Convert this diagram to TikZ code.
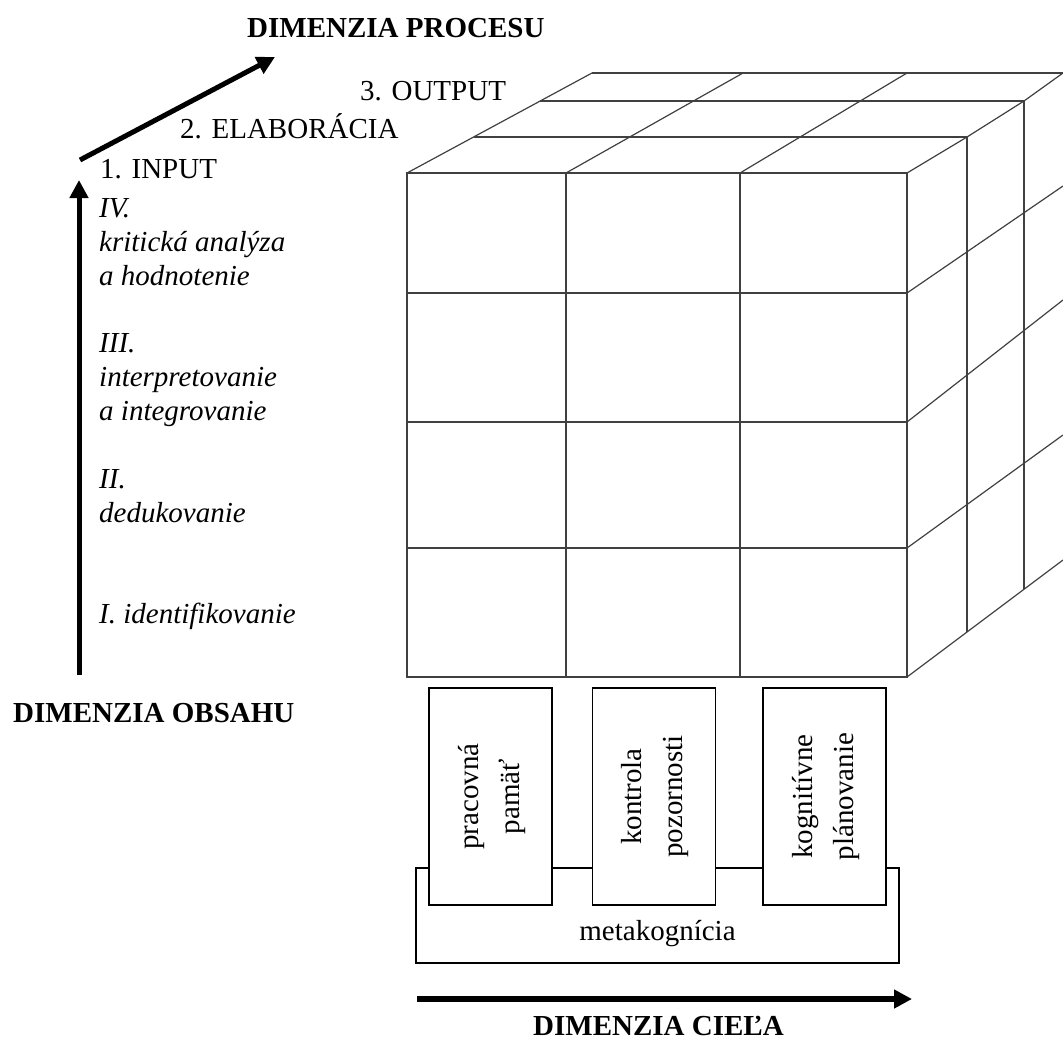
\documentclass[tikz,border=0pt]{standalone}
\usepackage{fontspec}
\setmainfont{Liberation Serif}
\usepackage{graphicx}
\usetikzlibrary{positioning,arrows.meta}

\begin{document}
\begin{tikzpicture}[x=1pt, y=-1pt,
    font=\fontsize{29}{34}\selectfont,
    cube/.style={draw=black!75, line width=1.2pt},
    axis/.style={line width=5pt, -{Triangle[length=18pt,width=18pt]}},
    phase/.style={anchor=base west, inner sep=0pt},
    level/.style={anchor=base west, inner sep=0pt, align=left,
                  font=\fontsize{29}{34}\selectfont\itshape},
    dimension/.style={anchor=base west, inner sep=0pt,
                      font=\fontsize{29}{34}\selectfont\bfseries},
    goal/.style={draw, line width=1.5pt, fill=white, inner sep=0pt,
                 minimum width=123pt, minimum height=217pt,
                 font=\fontsize{29}{41}\selectfont},
    metabox/.style={draw, line width=1.5pt, minimum width=483pt, minimum height=95pt}]
    \useasboundingbox (0,0) rectangle (1063,1039);
    \clip (0,0) rectangle (1063,1039);
    % Front face of the cube
    \draw[cube] (407,173) rectangle (907,677);
    \draw[cube] (566,173) -- (566,677) (740,173) -- (740,677);
    \draw[cube] (407,293) -- (907,293) (407,422) -- (907,422) (407,548) -- (907,548);
    % Top face
    \draw[cube] (407,173) -- (592,73) (566,173) -- (743,73) (740,173) -- (907,73);
    \draw[cube] (907,173) -- (967,137) -- (1024,101) -- (1063,73);
    \draw[cube] (473.6,137) -- (967,137) (540.2,101) -- (1024,101) (592,73) -- (1063,73);
    % Right face
    \draw[cube] (907,293) -- (1063,186) (907,422) -- (1063,300) (907,548) -- (1063,435);
    \draw[cube] (907,677) -- (1063,560);
    \draw[cube] (967,137) -- (967,632) (1024,101) -- (1024,589);
    % Axes
    \coordinate (obsahstart) at (79,675);
    \coordinate (obsahend) at (79,180);
    \coordinate (procesustart) at (80,160);
    \coordinate (procesuend) at (275,57);
    \coordinate (cielastart) at (417,999);
    \coordinate (cielaend) at (912,999);
    \draw[axis] (obsahstart) -- (obsahend);
    \draw[axis] (procesustart) -- (procesuend);
    \draw[axis, line width=6pt] (cielastart) -- (cielaend);
    % Labels
    \node[dimension] (procesu) at (247,37) {DIMENZIA PROCESU};
    \node[phase] (output) at (360,100) {3. OUTPUT};
    \node[phase] (elaboracia) at (180,138) {2. ELABORÁCIA};
    \node[phase] (input) at (100,178) {1. INPUT};
    \node[level] (level4) at (99,285) {IV.\\kritická analýza\\a hodnotenie};
    \node[level] (level3) at (99,420) {III.\\interpretovanie\\a integrovanie};
    \node[level] (level2) at (99,522) {II.\\dedukovanie};
    \node[level] (level1) at (99,623) {I. identifikovanie};
    \node[dimension] (obsahu) at (13,722) {DIMENZIA OBSAHU};
    \node[dimension] (ciela) at (533,1035) {DIMENZIA CIEĽA};
    % Goal boxes
    \node[metabox] (meta) at (657.5,915.5) {};
    \node[anchor=base] (metalabel) at ([yshift=23pt]meta.south) {metakognícia};
    \node[goal] (memory) at (490.5,796.5)
        {\rotatebox{90}{\begin{tabular}{@{}c@{}}pracovná\\pamäť\end{tabular}}};
    \node[goal, right=39pt of memory] (attention)
        {\rotatebox{90}{\begin{tabular}{@{}c@{}}kontrola\\pozornosti\end{tabular}}};
    \node[goal, right=46pt of attention] (planning)
        {\rotatebox{90}{\begin{tabular}{@{}c@{}}kognitívne\\plánovanie\end{tabular}}};
\end{tikzpicture}
\end{document}
